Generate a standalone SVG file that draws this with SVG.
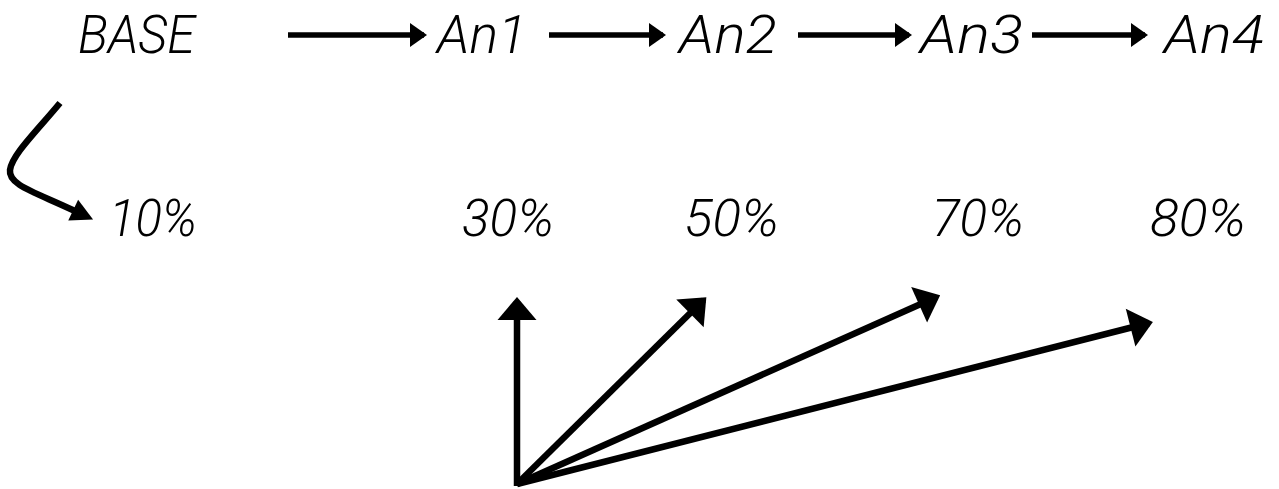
<svg xmlns="http://www.w3.org/2000/svg" width="1279" height="489" viewBox="0 0 1279 489">
<style>
  text { font-family: Roboto, "Liberation Sans", Arial, sans-serif; font-style: italic; font-weight: 300; fill: #000; }
  .lbl { font-size: 53px; }
  .pct { font-size: 52px; }
  .c { fill: none; stroke: #000; }
  .top { stroke-width: 5.5; }
  .bot { stroke-width: 6.5; }
</style>
<defs>
  <marker id="ahTop" markerUnits="userSpaceOnUse" markerWidth="17" markerHeight="24" refX="14" refY="12" orient="auto" overflow="visible">
    <path d="M0,0 L17,12 L0,24 z" fill="#000"/>
  </marker>
  <marker id="ahBot" markerUnits="userSpaceOnUse" markerWidth="23" markerHeight="39" refX="19" refY="19.5" orient="auto" overflow="visible">
    <path d="M0,0 L23,19.5 L0,39 z" fill="#000"/>
  </marker>
  <marker id="ahCurve" markerUnits="userSpaceOnUse" markerWidth="22" markerHeight="23" refX="2" refY="11.5" orient="auto" overflow="visible">
    <path d="M0,0 L22,11.5 L0,23 z" fill="#000"/>
  </marker>
</defs>
<g id="connectors">
  <line class="c top" x1="288" y1="35" x2="424" y2="35" marker-end="url(#ahTop)"/>
  <line class="c top" x1="549" y1="35" x2="663" y2="35" marker-end="url(#ahTop)"/>
  <line class="c top" x1="798" y1="35" x2="909" y2="35" marker-end="url(#ahTop)"/>
  <line class="c top" x1="1032" y1="35" x2="1145" y2="35" marker-end="url(#ahTop)"/>
  <path class="c bot" d="M60,103 C35,133 12,155 10,170 C8,185 35,192 75,211" marker-end="url(#ahCurve)"/>
  <line class="c bot" x1="517" y1="486" x2="517" y2="301" marker-end="url(#ahBot)"/>
  <line class="c bot" x1="517" y1="484" x2="703.5" y2="300" marker-end="url(#ahBot)"/>
  <line class="c bot" x1="517" y1="484" x2="936.5" y2="297" marker-end="url(#ahBot)"/>
  <line class="c bot" x1="517" y1="484" x2="1149" y2="323" marker-end="url(#ahBot)"/>
</g>
<g id="node-base"><text class="lbl" x="78" y="53" textLength="117" lengthAdjust="spacingAndGlyphs">BASE</text></g>
<g id="node-an1"><text class="lbl" x="437" y="53" textLength="90" lengthAdjust="spacingAndGlyphs">An1</text></g>
<g id="node-an2"><text class="lbl" x="679" y="53" textLength="98" lengthAdjust="spacingAndGlyphs">An2</text></g>
<g id="node-an3"><text class="lbl" x="920" y="53" textLength="103" lengthAdjust="spacingAndGlyphs">An3</text></g>
<g id="node-an4"><text class="lbl" x="1164" y="53" textLength="100" lengthAdjust="spacingAndGlyphs">An4</text></g>
<g id="node-p10"><text class="pct" x="109" y="236" textLength="88" lengthAdjust="spacingAndGlyphs">10%</text></g>
<g id="node-p30"><text class="pct" x="462" y="236" textLength="92" lengthAdjust="spacingAndGlyphs">30%</text></g>
<g id="node-p50"><text class="pct" x="684" y="236" textLength="95" lengthAdjust="spacingAndGlyphs">50%</text></g>
<g id="node-p70"><text class="pct" x="932" y="236" textLength="92" lengthAdjust="spacingAndGlyphs">70%</text></g>
<g id="node-p80"><text class="pct" x="1150" y="236" textLength="96" lengthAdjust="spacingAndGlyphs">80%</text></g>
</svg>
